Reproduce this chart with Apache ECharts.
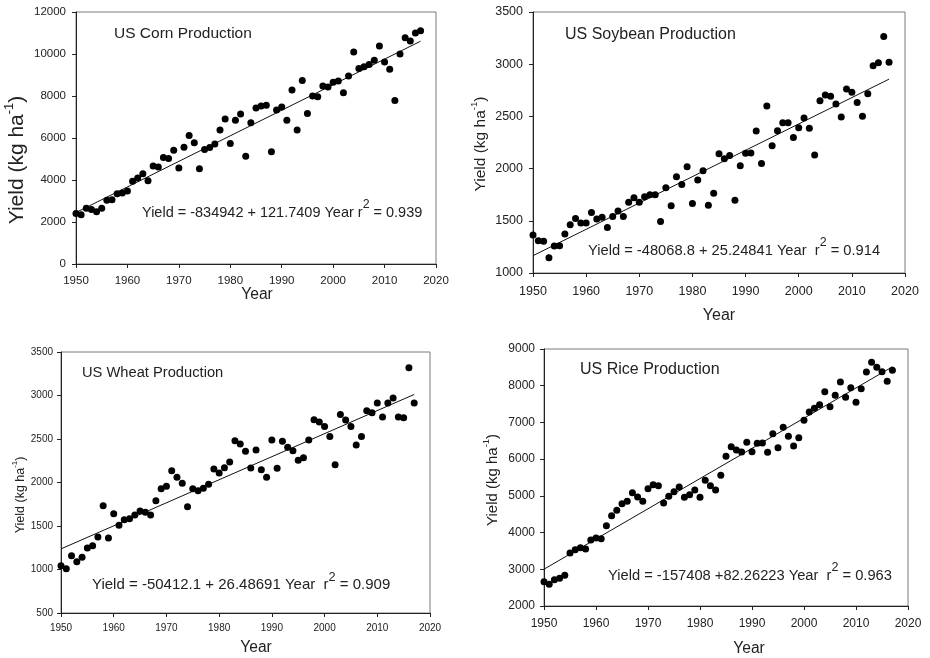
<!DOCTYPE html>
<html>
<head>
<meta charset="utf-8">
<script src="https://cdn.jsdelivr.net/npm/echarts@6/dist/echarts.min.js"></script>
<style>
html,body{margin:0;padding:0;background:#fff;}
#main{width:930px;height:658px;}
</style>
</head>
<body>
<div id="main"></div>
<script>
// 年份 1950-2017
var years = []
for (var i = 1950; i <= 2017; i++) {
	years.push(i)
}
var fitYears = [1950, 2017]

var corn = [2400,2340,2660,2600,2490,2660,3030,3060,3350,3380,
	3475,3940,4100,4300,3970,4670,4620,5070,5020,5420,
	4575,5560,6120,5770,4540,5450,5550,5720,6380,6900,
	5740,6850,7140,5130,6730,7430,7520,7560,5340,7330,
	7480,6850,8290,6380,8740,7170,8000,7970,8480,8430,
	8650,8720,8160,8950,10090,9315,9395,9505,9700,10380,
	9620,9270,7780,10000,10775,10620,11000,11110]
var soybean = [1365,1310,1304,1147,1259,1262,1374,1461,1522,1480,
	1480,1579,1518,1534,1435,1541,1595,1541,1678,1720,
	1678,1730,1749,1749,1493,1816,1643,1922,1848,2018,
	1666,1890,1979,1650,1765,2142,2094,2126,1698,2027,
	2146,2149,2360,2050,2600,2219,2363,2440,2440,2299,
	2392,2485,2386,2130,2651,2706,2693,2619,2494,2763,
	2731,2632,2501,2718,2984,3013,3266,3019]
var wheat = [1044,1010,1159,1090,1140,1247,1274,1373,1734,1362,
	1642,1508,1573,1584,1626,1672,1657,1626,1791,1929,
	1956,2136,2059,1990,1722,1929,1906,1933,1979,2155,
	2109,2170,2235,2481,2442,2358,2167,2373,2147,2059,
	2488,2163,2473,2404,2366,2255,2285,2488,2722,2695,
	2645,2530,2205,2783,2718,2645,2431,2530,2825,2802,
	2914,2753,2914,2971,2753,2745,3320,2914]
var rice = [2663,2590,2717,2754,2835,3444,3535,3589,3553,3798,
	3852,3834,4188,4461,4606,4788,4851,5087,4969,4851,
	5196,5305,5278,4806,4987,5114,5242,4960,5033,5160,
	4960,5423,5278,5160,5559,6077,6340,6249,6195,6458,
	6204,6431,6440,6186,6694,6313,6867,6622,6358,6585,
	7058,7285,7385,7484,7838,7430,7739,8102,7684,7947,
	7548,7920,8374,8637,8501,8383,8120,8420]

// 回归线两端
var cornFit = [2453, 10609]
var soybeanFit = [1166, 2857]
var wheatFit = [1237, 3012]
var riceFit = [3003, 8515]

var titles = ['US Corn Production', 'US Soybean Production', 'US Wheat Production', 'US Rice Production']
var eqMain = ['Yield = -834942 + 121.7409 Year r', 'Yield = -48068.8 + 25.24841 Year  r', 'Yield = -50412.1 + 26.48691 Year  r', 'Yield = -157408 +82.26223 Year  r']
var eqR2 = [' = 0.939', ' = 0.914', ' = 0.909', ' = 0.963']

var xTicks = [1950, 2020, 10]
var yRanges = [[0, 12000, 2000], [1000, 3500, 500], [500, 3500, 500], [2000, 9000, 1000]]

var font = 'Liberation Sans, Arial, sans-serif'
var grids = [
	{left: 76, top: 12, width: 360, height: 252},
	{left: 533, top: 12, width: 372, height: 261},
	{left: 61, top: 352, width: 369, height: 261},
	{left: 544, top: 349, width: 364, height: 257}
]
var tickFont = [11.5, 12.5, 10, 12]
var xMargin = [11, 12, 10, 12]
var yMargin = [10, 10, 8, 9]

function pairs(ys) {
	var out = []
	for (var i = 0; i < years.length; i++) {
		out.push([years[i], ys[i]])
	}
	return out
}
function fitPairs(f) {
	return [[fitYears[0], f[0]], [fitYears[1], f[1]]]
}
function plain(v) {
	return String(v)
}

var chart = echarts.init(document.getElementById('main'))
var allData = [corn, soybean, wheat, rice]
var allFit = [cornFit, soybeanFit, wheatFit, riceFit]

var xAxis = [], yAxis = [], series = [], gridOpt = []
for (var k = 0; k < 4; k++) {
	gridOpt.push({
		left: grids[k].left, top: grids[k].top, width: grids[k].width, height: grids[k].height,
		show: true, borderColor: '#7a7a7a', borderWidth: 1, backgroundColor: 'transparent'
	})
	xAxis.push({
		type: 'value', gridIndex: k, min: xTicks[0], max: xTicks[1], interval: xTicks[2],
		axisLine: {onZero: false, lineStyle: {color: '#222', width: 1}},
		axisTick: {inside: false, length: 4, lineStyle: {color: '#222'}},
		axisLabel: {fontSize: tickFont[k], color: '#222', fontFamily: font, margin: xMargin[k], showMaxLabel: true, showMinLabel: true, formatter: plain},
		splitLine: {show: false}
	})
	yAxis.push({
		type: 'value', gridIndex: k, min: yRanges[k][0], max: yRanges[k][1], interval: yRanges[k][2],
		axisLine: {show: true, onZero: false, lineStyle: {color: '#222', width: 1}},
		axisTick: {show: true, inside: false, length: 4, lineStyle: {color: '#222'}},
		axisLabel: {fontSize: tickFont[k], color: '#222', fontFamily: font, margin: yMargin[k], formatter: plain},
		splitLine: {show: false}
	})
	series.push({
		type: 'line', xAxisIndex: k, yAxisIndex: k, data: fitPairs(allFit[k]),
		symbol: 'none', lineStyle: {color: '#111', width: 1}, silent: true, z: 2
	})
	series.push({
		type: 'scatter', xAxisIndex: k, yAxisIndex: k, data: pairs(allData[k]),
		symbolSize: 7, itemStyle: {color: '#000', opacity: 1}, z: 3
	})
}

// 文字位置
var titlePos = [[114, 34, 15.5], [565, 36, 16], [82, 374, 14.7], [580, 371, 16]]
var eqPos = [[142, 213, 14.5], [588, 251, 14.7], [92, 585, 15], [608, 576, 14.7]]
var yTitlePos = [[15, 160, 21], [479, 144, 15.5], [19, 495, 12.5], [491, 480, 15]]
var xTitlePos = [[257, 295, 15.6], [719, 316, 16], [256, 648, 15.6], [749, 649, 15.6]]

var graphic = []
for (var k = 0; k < 4; k++) {
	graphic.push({
		type: 'text', left: titlePos[k][0], top: titlePos[k][1] - titlePos[k][2] / 2 - 1,
		style: {text: titles[k], fontSize: titlePos[k][2], fontFamily: font, fill: '#222'}
	})
	var fs = eqPos[k][2]
	graphic.push({
		type: 'text', left: eqPos[k][0], top: eqPos[k][1] - fs / 2 - 7,
		style: {
			text: '{t|' + eqMain[k] + '}{s|2}{t|' + eqR2[k] + '}',
			fontFamily: font, fill: '#222',
			rich: {
				t: {fontSize: fs, fontFamily: font, lineHeight: fs + 7, verticalAlign: 'bottom', fill: '#222'},
				s: {fontSize: fs * 0.85, fontFamily: font, lineHeight: fs * 0.85, verticalAlign: 'top', fill: '#222'}
			}
		}
	})
	var yf = yTitlePos[k][2]
	graphic.push({
		type: 'text', x: yTitlePos[k][0], y: yTitlePos[k][1], rotation: Math.PI / 2,
		style: {
			text: '{a|Yield (kg ha}{s|-1}{a|)}',
			align: 'center', verticalAlign: 'middle', fontFamily: font,
			rich: {
				a: {fontSize: yf, fontFamily: font, lineHeight: yf + 4, verticalAlign: 'bottom', fill: '#222'},
				s: {fontSize: yf * 0.62, fontFamily: font, lineHeight: yf * 0.62, verticalAlign: 'top', fill: '#222'}
			}
		}
	})
	graphic.push({
		type: 'text', x: xTitlePos[k][0], y: xTitlePos[k][1],
		style: {text: 'Year', fontSize: xTitlePos[k][2], fontFamily: font, fill: '#222', align: 'center', verticalAlign: 'middle'}
	})
}

var option = {
	backgroundColor: '#fff',
	animation: false,
	grid: gridOpt,
	xAxis: xAxis,
	yAxis: yAxis,
	series: series,
	graphic: graphic
}
chart.setOption(option)
</script>
</body>
</html>
